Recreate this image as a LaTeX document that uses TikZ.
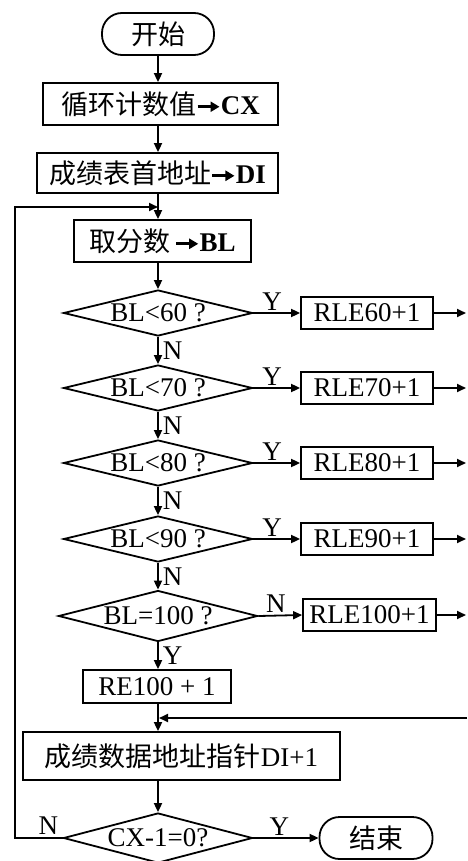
\documentclass[tikz,border=0pt]{standalone}
\usepackage{fontspec}
\setmainfont{Liberation Serif}
\newfontfamily\cjk{Noto Sans CJK SC}
\usetikzlibrary{shapes.geometric,arrows.meta}
\newcommand\harr{\tikz[baseline=-0.6ex]\draw[line width=2.6pt,-{Triangle[length=9pt,width=10pt]}] (0pt,0pt)--(22pt,0pt);}
\begin{document}
\begin{tikzpicture}[x=1pt,y=-1pt,
  font=\fontsize{27}{30}\selectfont,
  lw/.style={line width=1.8pt},
  boxn/.style={draw,lw,rectangle,inner sep=0pt},
  term/.style={draw,lw,rectangle,rounded corners=20pt,inner sep=0pt,minimum width=112pt,minimum height=42pt},
  dia/.style={draw,lw,diamond,inner sep=0pt},
  arr/.style={lw,-{Triangle[length=9pt,width=8pt]}},
  lab/.style={inner sep=0pt}]
\useasboundingbox (0,0) rectangle (467,861);
% nodes
\node[term] (start) at (158,34) {\cjk 开始};
\node[boxn,minimum width=235pt,minimum height=42pt] (b1) at (160.5,104) {{\cjk 循环计数值}\harr\textbf{CX}};
\node[boxn,minimum width=241pt,minimum height=40pt] (b2) at (157.5,173) {{\cjk 成绩表首地址}\harr\textbf{DI}};
\coordinate (loopin) at (158,207);
\node[boxn,minimum width=177pt,minimum height=42pt] (b3) at (162.5,241) {{\cjk 取分数}\,\harr\textbf{BL}};
\node[dia,minimum width=189pt,minimum height=46pt] (d1) at (158,313) {};
\node[lab] at (d1) {BL<60 ?};
\node[dia,minimum width=189pt,minimum height=46pt] (d2) at (158,388) {};
\node[lab] at (d2) {BL<70 ?};
\node[dia,minimum width=189pt,minimum height=46pt] (d3) at (158,463) {};
\node[lab] at (d3) {BL<80 ?};
\node[dia,minimum width=189pt,minimum height=46pt] (d4) at (158,539) {};
\node[lab] at (d4) {BL<90 ?};
\node[dia,minimum width=199pt,minimum height=51pt] (d5) at (158,616) {};
\node[lab] at (d5) {BL=100 ?};
\node[boxn,minimum width=132pt,minimum height=32pt] (r1) at (367,313) {RLE60+1};
\node[boxn,minimum width=132pt,minimum height=32pt] (r2) at (367,388) {RLE70+1};
\node[boxn,minimum width=132pt,minimum height=32pt] (r3) at (367,463) {RLE80+1};
\node[boxn,minimum width=132pt,minimum height=32pt] (r4) at (367,539) {RLE90+1};
\node[boxn,minimum width=133pt,minimum height=32pt] (r5) at (369.5,615) {RLE100+1};
\coordinate (o1) at (466,313);
\coordinate (o2) at (466,388);
\coordinate (o3) at (466,463);
\coordinate (o4) at (466,539);
\coordinate (o5) at (466,615);
\node[boxn,minimum width=148pt,minimum height=33pt] (re) at (157,686.5) {RE100 + 1};
\coordinate (retin) at (467,718);
\coordinate (junc) at (159,718);
\node[boxn,minimum width=317pt,minimum height=48pt] (b4) at (181.5,756) {{\cjk 成绩数据地址指针}DI+1};
\node[dia,minimum width=189pt,minimum height=50pt] (d6) at (158,838) {};
\node[lab] at (d6) {CX-1=0?};
\node[term,minimum width=113pt] (fin) at (376,838) {\cjk 结束};
\coordinate (lc) at (15,838);
% connectors
\draw[arr] (start.south) -- (start.south |- b1.north);
\draw[arr] (b1.south -| d1) -- (b2.north -| d1);
\draw[arr] (b2.south -| d1) -- (b3.north -| d1);
\draw[arr] (b3.south -| d1) -- (d1.north);
\draw[arr] (d1.south) -- node[lab,right=4pt] {N} (d2.north);
\draw[arr] (d2.south) -- node[lab,right=4pt] {N} (d3.north);
\draw[arr] (d3.south) -- node[lab,right=4pt] {N} (d4.north);
\draw[arr] (d4.south) -- node[lab,right=4pt] {N} (d5.north);
\draw[arr] (d5.south) -- node[lab,right=4pt] {Y} (re.north -| d5);
\draw[arr] (d1.east) -- node[lab,above=2pt,pos=0.4] {Y} (r1.west);
\draw[arr] (d2.east) -- node[lab,above=2pt,pos=0.4] {Y} (r2.west);
\draw[arr] (d3.east) -- node[lab,above=2pt,pos=0.4] {Y} (r3.west);
\draw[arr] (d4.east) -- node[lab,above=2pt,pos=0.4] {Y} (r4.west);
\draw[arr] (d5.east) -- node[lab,above=2pt,pos=0.4] {N} (r5.west);
\draw[arr] (r1.east) -- (o1);
\draw[arr] (r2.east) -- (o2);
\draw[arr] (r3.east) -- (o3);
\draw[arr] (r4.east) -- (o4);
\draw[arr] (r5.east) -- (o5);
\draw[arr] (re.south -| d5) -- (b4.north -| d5);
\draw[arr] (retin) -- (junc);
\draw[arr] (b4.south -| d6) -- (d6.north);
\draw[arr] (d6.east) -- node[lab,above=2pt,pos=0.4] {Y} (fin.west);
\draw[arr] (d6.west) -- node[lab,above=3pt,pos=0.3] {N} (lc) |- (loopin);
\end{tikzpicture}
\end{document}
